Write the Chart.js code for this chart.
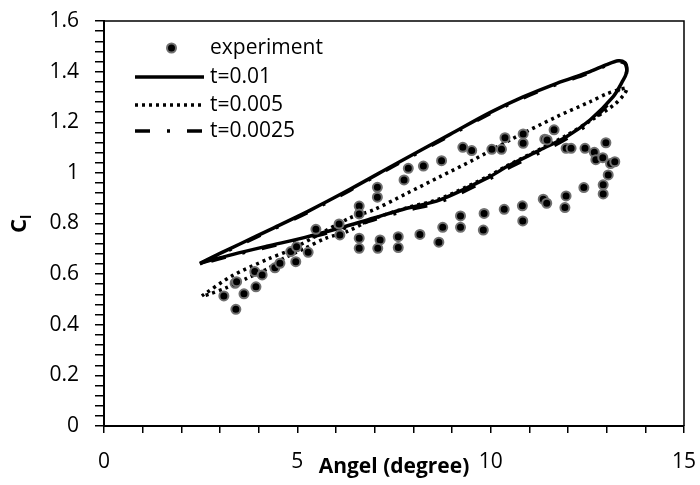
<!DOCTYPE html>
<html><head><meta charset="utf-8">
<script src="https://cdn.jsdelivr.net/npm/chart.js@4.4.0/dist/chart.umd.min.js"></script>
<style>html,body{margin:0;padding:0;background:#fff}#wrap{width:700px;height:485px}</style>
</head><body><div id="wrap"><canvas id="c" width="700" height="485"></canvas></div>
<script>
// ---- data ----
const expX = [3.10,3.41,3.39,3.43,3.62,3.90,3.93,4.09,4.42,4.55,4.83,4.96,4.98,5.28,5.48,6.08,6.10,6.60,6.60,6.60,6.60,7.07,7.07,7.14,7.08,7.61,7.61,7.76,7.87,8.26,8.17,8.66,8.73,8.76,9.22,9.22,9.28,9.51,9.83,9.81,10.03,10.28,10.37,10.35,10.82,10.83,10.84,10.84,11.36,11.45,11.40,11.46,11.64,11.92,11.95,11.95,12.08,12.41,12.44,12.68,12.72,12.90,12.91,12.91,12.98,13.04,13.10,13.21];
const expY = [0.514,0.461,0.564,0.570,0.522,0.610,0.550,0.597,0.625,0.643,0.689,0.649,0.708,0.686,0.777,0.798,0.755,0.869,0.838,0.742,0.702,0.943,0.904,0.735,0.702,0.748,0.705,0.972,1.018,1.027,0.757,0.726,1.048,0.785,0.830,0.785,1.101,1.088,0.840,0.774,1.093,1.093,1.139,0.856,0.870,0.810,1.154,1.117,0.896,0.880,1.133,1.130,1.170,0.863,0.909,1.097,1.097,0.942,1.097,1.081,1.052,1.060,0.953,0.917,1.119,0.992,1.037,1.044];

const t01X = [2.48,3.0,3.5,4.38,5.3,6.36,7.6,8.95,9.98,10.84,11.71,12.57,13.0,13.3,13.47,13.52,13.5,13.43,13.17,12.57,11.96,11.27,10.41,9.98,8.69,7.83,6.96,6.10,5.2,4.21,3.34,2.48];
const t01Y = [0.643,0.682,0.718,0.782,0.850,0.935,1.040,1.152,1.238,1.300,1.354,1.400,1.428,1.443,1.436,1.415,1.390,1.367,1.301,1.209,1.143,1.090,1.024,0.985,0.893,0.860,0.821,0.782,0.745,0.710,0.678,0.643];

const t005X = [2.53,3.32,4.25,4.81,5.6,6.36,6.96,7.83,8.69,9.55,10.5,11.71,12.57,13.0,13.35,13.52,13.45,13.2,12.57,11.96,11.27,10.41,9.98,8.69,7.83,6.96,6.28,5.72,5.2,4.64,4.25,3.69,3.13,2.74,2.53];
const t005Y = [0.514,0.594,0.660,0.695,0.760,0.822,0.853,0.919,0.985,1.051,1.130,1.222,1.281,1.312,1.330,1.334,1.310,1.270,1.205,1.148,1.093,1.027,0.990,0.898,0.862,0.818,0.768,0.741,0.702,0.662,0.623,0.583,0.544,0.522,0.512];

const t0025X = [2.48,3.0,3.5,4.38,5.3,6.36,7.6,8.95,9.98,10.84,11.71,12.57,13.0,13.3,13.47,13.52,13.5,13.42,13.17,12.57,11.96,11.27,10.41,9.98,8.69,7.83,6.96,6.10,5.2,4.21,3.34,2.48];
const t0025Y = [0.640,0.678,0.714,0.778,0.846,0.931,1.036,1.148,1.234,1.296,1.350,1.396,1.425,1.440,1.432,1.410,1.385,1.360,1.295,1.200,1.135,1.080,1.015,0.977,0.885,0.852,0.814,0.776,0.740,0.706,0.675,0.640];

const seriesNames = ['experiment','t=0.01','t=0.005','t=0.0025'];
const xTickLabels = ['0','5','10','15'];
const yTickLabels = ['0','0.2','0.4','0.6','0.8','1','1.2','1.4','1.6'];
const xAxisTitle = 'Angel (degree)';
const yAxisTitleMain = 'C';
const yAxisTitleSub = 'l';

// ---- helpers ----
const pts = (xs, ys) => xs.map((x, i) => ({x: x, y: ys[i]}));
const FONT = '"Open Sans", sans-serif';

const boxPlugin = {
  id: 'box',
  afterDatasetsDraw(chart) {
    const {ctx, chartArea: a} = chart;
    ctx.save();
    ctx.strokeStyle = '#000';
    ctx.lineWidth = 1.5;
    ctx.beginPath();
    ctx.moveTo(a.left, a.top); ctx.lineTo(a.right, a.top); ctx.lineTo(a.right, a.bottom);
    ctx.stroke();
    ctx.restore();
  }
};

const legendPlugin = {
  id: 'customLegend',
  afterDraw(chart) {
    const {ctx} = chart;
    const rows = [48, 77, 105, 131];
    const x0 = 135, x1 = 204, tx = 210;
    ctx.save();
    chart.data.datasets.forEach((ds, i) => {
      const y = rows[i];
      if (ds.showLine === false) {
        ctx.beginPath();
        ctx.arc((x0 + x1) / 2 + 2, y, ds.pointRadius, 0, Math.PI * 2);
        ctx.fillStyle = ds.pointBackgroundColor;
        ctx.fill();
        ctx.lineWidth = ds.pointBorderWidth;
        ctx.strokeStyle = ds.pointBorderColor;
        ctx.stroke();
      } else {
        ctx.beginPath();
        ctx.setLineDash(ds.borderDash || []);
        ctx.lineWidth = ds.borderWidth;
        ctx.strokeStyle = ds.borderColor;
        ctx.lineCap = 'butt';
        ctx.moveTo(x0, y); ctx.lineTo(x1, y);
        ctx.stroke();
        ctx.setLineDash([]);
      }
      ctx.fillStyle = '#000';
      ctx.font = '21px ' + FONT;
      ctx.textAlign = 'left';
      ctx.textBaseline = 'middle';
      ctx.fillText(ds.label, tx, y);
    });
    ctx.restore();
  }
};

const yTitlePlugin = {
  id: 'yTitle',
  afterDraw(chart) {
    const {ctx} = chart;
    ctx.save();
    ctx.translate(26, 226);
    ctx.rotate(-Math.PI / 2);
    ctx.fillStyle = '#000';
    ctx.textBaseline = 'alphabetic';
    ctx.textAlign = 'center';
    ctx.font = 'bold 22px ' + FONT;
    ctx.fillText(yAxisTitleMain, 0, 0);
    ctx.font = 'bold 14px ' + FONT;
    ctx.textAlign = 'left';
    ctx.fillText(yAxisTitleSub, 7, 5);
    ctx.restore();
  }
};

const xMinor = []; for (let i = 0; i <= 15; i++) xMinor.push(i);
const yMinor = []; for (let i = 0; i <= 40; i++) yMinor.push(+(i * 0.04).toFixed(2));

new Chart(document.getElementById('c'), {
  type: 'scatter',
  data: {
    datasets: [
      {label: seriesNames[0], data: pts(expX, expY), showLine: false, pointRadius: 4.5, pointBackgroundColor: '#000', pointBorderColor: '#707070', pointBorderWidth: 2, order: 0},
      {label: seriesNames[1], data: pts(t01X, t01Y), showLine: true, pointRadius: 0, borderColor: '#000', borderWidth: 3.5, tension: 0.3, order: 3},
      {label: seriesNames[2], data: pts(t005X, t005Y), showLine: true, pointRadius: 0, borderColor: '#000', borderWidth: 3.5, borderDash: [3, 4], tension: 0.3, order: 1},
      {label: seriesNames[3], data: pts(t0025X, t0025Y), showLine: true, pointRadius: 0, borderColor: '#000', borderWidth: 3.5, borderDash: [15, 17, 3, 17], tension: 0.3, order: 2}
    ]
  },
  options: {
    responsive: false,
    animation: false,
    devicePixelRatio: 1,
    layout: {padding: {left: 0, right: 16, top: 21, bottom: 0}},
    plugins: {legend: {display: false}, tooltip: {enabled: false}},
    scales: {
      x: {
        type: 'linear', min: 0, max: 15,
        afterBuildTicks: s => { s.ticks = xMinor.map(v => ({value: v})); },
        afterFit: s => { s.height = 59; s.paddingLeft = 0; s.paddingRight = 0; },
        ticks: {
          autoSkip: false, maxRotation: 0, minRotation: 0, padding: 16,
          color: '#000', font: {family: FONT, size: 21, lineHeight: 1.2},
          callback: v => xTickLabels.includes(String(v)) ? String(v) : ''
        },
        grid: {drawOnChartArea: false, drawTicks: true, tickLength: 7, color: '#000', lineWidth: 1.5},
        border: {display: true, color: '#000', width: 2},
        title: {display: true, text: xAxisTitle, color: '#000', font: {family: FONT, size: 21, weight: 'bold', lineHeight: 1.2}, padding: {top: 0, bottom: 5}}
      },
      y: {
        type: 'linear', min: 0, max: 1.6,
        afterBuildTicks: s => { s.ticks = yMinor.map(v => ({value: v})); },
        afterFit: s => { s.width = 104; s.paddingTop = 0; s.paddingBottom = 0; },
        ticks: {
          autoSkip: false, padding: 16,
          color: '#000', font: {family: FONT, size: 21, lineHeight: 1.2},
          callback: v => { const s = String(+(+v).toFixed(2)); return yTickLabels.includes(s) ? s : ''; }
        },
        grid: {drawOnChartArea: false, drawTicks: true, tickLength: 9, color: '#000', lineWidth: 1.5},
        border: {display: true, color: '#000', width: 2}
      }
    }
  },
  plugins: [boxPlugin, legendPlugin, yTitlePlugin]
});
</script>
</body></html>
